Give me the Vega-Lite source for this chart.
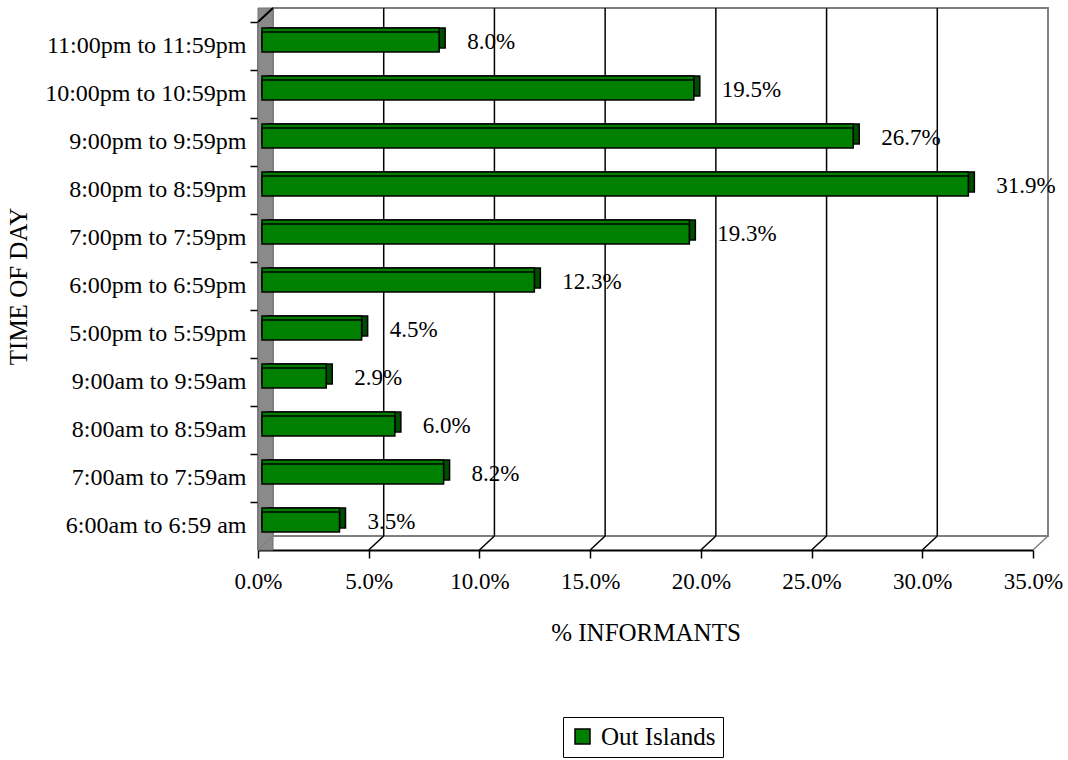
{
  "$schema": "https://vega.github.io/schema/vega-lite/v6.json",
  "autosize": {"type": "none"},
  "width": 775,
  "height": 528,
  "padding": {"left": 258, "top": 22, "right": 35, "bottom": 210},
  "background": "white",
  "config": {"font": "Liberation Serif", "view": {"stroke": null}},
  "datasets": {
    "rows": [
      {"time": "11:00pm to 11:59pm", "share": 0.080},
      {"time": "10:00pm to 10:59pm", "share": 0.195},
      {"time": "9:00pm to 9:59pm", "share": 0.267},
      {"time": "8:00pm to 8:59pm", "share": 0.319},
      {"time": "7:00pm to 7:59pm", "share": 0.193},
      {"time": "6:00pm to 6:59pm", "share": 0.123},
      {"time": "5:00pm to 5:59pm", "share": 0.045},
      {"time": "9:00am to 9:59am", "share": 0.029},
      {"time": "8:00am to 8:59am", "share": 0.060},
      {"time": "7:00am to 7:59am", "share": 0.082},
      {"time": "6:00am to 6:59 am", "share": 0.035}
    ],
    "ticks": [
      {"v": 0}, {"v": 0.05}, {"v": 0.10}, {"v": 0.15}, {"v": 0.20}, {"v": 0.25}, {"v": 0.30}, {"v": 0.35}
    ],
    "grid": [
      {"v": 0.05}, {"v": 0.10}, {"v": 0.15}, {"v": 0.20}, {"v": 0.25}, {"v": 0.30}
    ],
    "one": [{"k": 1}]
  },
  "resolve": {"scale": {"y": "independent"}, "axis": {"y": "independent"}},
  "layer": [
    {
      "layer": [
        {
          "data": {"name": "one"},
          "mark": {"type": "rect", "fill": "#8a8a8a", "stroke": "#707070", "strokeWidth": 1, "x2Offset": 15, "y2Offset": -14},
          "encoding": {
            "x": {"datum": 0, "type": "quantitative", "scale": {"domain": [0, 0.35], "nice": false}},
            "x2": {"datum": 0},
            "y": {"datum": 0, "type": "quantitative", "scale": {"domain": [0, 1]}, "axis": null},
            "y2": {"datum": 1}
          }
        },
        {
          "data": {"name": "one"},
          "mark": {"type": "rect", "fill": null, "stroke": "#808080", "strokeWidth": 2, "xOffset": 15, "x2Offset": 15, "yOffset": -14, "y2Offset": -14},
          "encoding": {
            "x": {"datum": 0, "type": "quantitative"},
            "x2": {"datum": 0.35},
            "y": {"datum": 0, "type": "quantitative", "axis": null},
            "y2": {"datum": 1}
          }
        },
        {
          "data": {"name": "grid"},
          "mark": {"type": "rule", "color": "black", "strokeWidth": 1.5, "xOffset": 15, "yOffset": -14, "y2Offset": -14},
          "encoding": {
            "x": {"field": "v", "type": "quantitative"},
            "y": {"datum": 0, "type": "quantitative", "axis": null},
            "y2": {"datum": 1}
          }
        },
        {
          "data": {"name": "one"},
          "mark": {"type": "rule", "color": "black", "strokeWidth": 2, "x2Offset": 15, "y2Offset": -14},
          "encoding": {
            "x": {"datum": 0, "type": "quantitative"},
            "x2": {"datum": 0},
            "y": {"datum": 1, "type": "quantitative", "axis": null},
            "y2": {"datum": 1}
          }
        },
        {
          "data": {"name": "ticks"},
          "mark": {"type": "rule", "strokeWidth": 1.5, "x2Offset": 15, "y2Offset": -14},
          "encoding": {
            "x": {"field": "v", "type": "quantitative"},
            "x2": {"field": "v"},
            "y": {"datum": 0, "type": "quantitative", "axis": null},
            "y2": {"datum": 0},
            "stroke": {"condition": {"test": "datum.v == 0 || datum.v == 0.35", "value": "#808080"}, "value": "black"}
          }
        }
      ]
    },
    {
      "data": {"name": "rows"},
      "layer": [
        {
          "mark": {"type": "bar", "size": 20, "fill": "#004d00", "stroke": "black", "strokeWidth": 1.5, "xOffset": 10, "x2Offset": 10, "yOffset": -8},
          "encoding": {
            "y": {"field": "time", "type": "nominal", "sort": null},
            "x": {"field": "share", "type": "quantitative"}
          }
        },
        {
          "mark": {"type": "bar", "size": 20, "fill": "#008000", "stroke": "black", "strokeWidth": 1.5, "xOffset": 4, "x2Offset": 10, "yOffset": -8},
          "encoding": {
            "y": {"field": "time", "type": "nominal", "sort": null},
            "x": {"field": "share", "type": "quantitative"}
          }
        },
        {
          "mark": {"type": "bar", "size": 20, "stroke": "black", "strokeWidth": 1.5, "xOffset": 4, "x2Offset": 4, "yOffset": -4},
          "encoding": {
            "y": {
              "field": "time",
              "type": "nominal",
              "sort": null,
              "scale": {
                "domain": ["11:00pm to 11:59pm", "10:00pm to 10:59pm", "9:00pm to 9:59pm", "8:00pm to 8:59pm", "7:00pm to 7:59pm", "6:00pm to 6:59pm", "5:00pm to 5:59pm", "9:00am to 9:59am", "8:00am to 8:59am", "7:00am to 7:59am", "6:00am to 6:59 am"],
                "paddingInner": 0,
                "paddingOuter": 0
              },
              "axis": {
                "title": "TIME OF DAY",
                "bandPosition": 0,
                "domainColor": "black",
                "domainWidth": 2,
                "tickColor": "black",
                "tickWidth": 1.5,
                "tickSize": 8,
                "labelFont": "Liberation Serif",
                "labelFontSize": 24,
                "labelColor": "black",
                "labelPadding": 4,
                "labelLimit": 400,
                "titleFont": "Liberation Serif",
                "titleFontSize": 25,
                "titleFontWeight": "normal",
                "titleColor": "black",
                "titlePadding": 27
              }
            },
            "x": {
              "field": "share",
              "type": "quantitative",
              "scale": {"domain": [0, 0.35], "nice": false},
              "axis": {
                "title": "% INFORMANTS",
                "format": ".1%",
                "values": [0, 0.05, 0.10, 0.15, 0.20, 0.25, 0.30, 0.35],
                "grid": false,
                "domainColor": "black",
                "domainWidth": 2,
                "tickColor": "black",
                "tickWidth": 1.5,
                "tickSize": 8,
                "labelFont": "Liberation Serif",
                "labelFontSize": 23,
                "labelColor": "black",
                "labelPadding": 12,
                "labelFlush": false,
                "titleFont": "Liberation Serif",
                "titleFontSize": 25,
                "titleFontWeight": "normal",
                "titleColor": "black",
                "titlePadding": 27
              }
            },
            "color": {
              "datum": "Out Islands",
              "type": "nominal",
              "scale": {"range": ["#008000"]},
              "legend": {
                "title": null,
                "orient": "none",
                "legendX": 305,
                "legendY": 695,
                "strokeColor": "black",
                "padding": 7,
                "symbolType": "square",
                "symbolSize": 225,
                "symbolStrokeColor": "black",
                "symbolStrokeWidth": 1.5,
                "symbolOpacity": 1,
                "labelOffset": 6,
                "labelFont": "Liberation Serif",
                "labelFontSize": 25,
                "labelColor": "black"
              }
            }
          }
        },
        {
          "mark": {"type": "text", "align": "left", "baseline": "middle", "dx": 32, "yOffset": -4, "font": "Liberation Serif", "fontSize": 23, "color": "black"},
          "encoding": {
            "y": {"field": "time", "type": "nominal", "sort": null},
            "x": {"field": "share", "type": "quantitative"},
            "text": {"field": "share", "type": "quantitative", "format": ".1%"}
          }
        }
      ]
    }
  ]
}
